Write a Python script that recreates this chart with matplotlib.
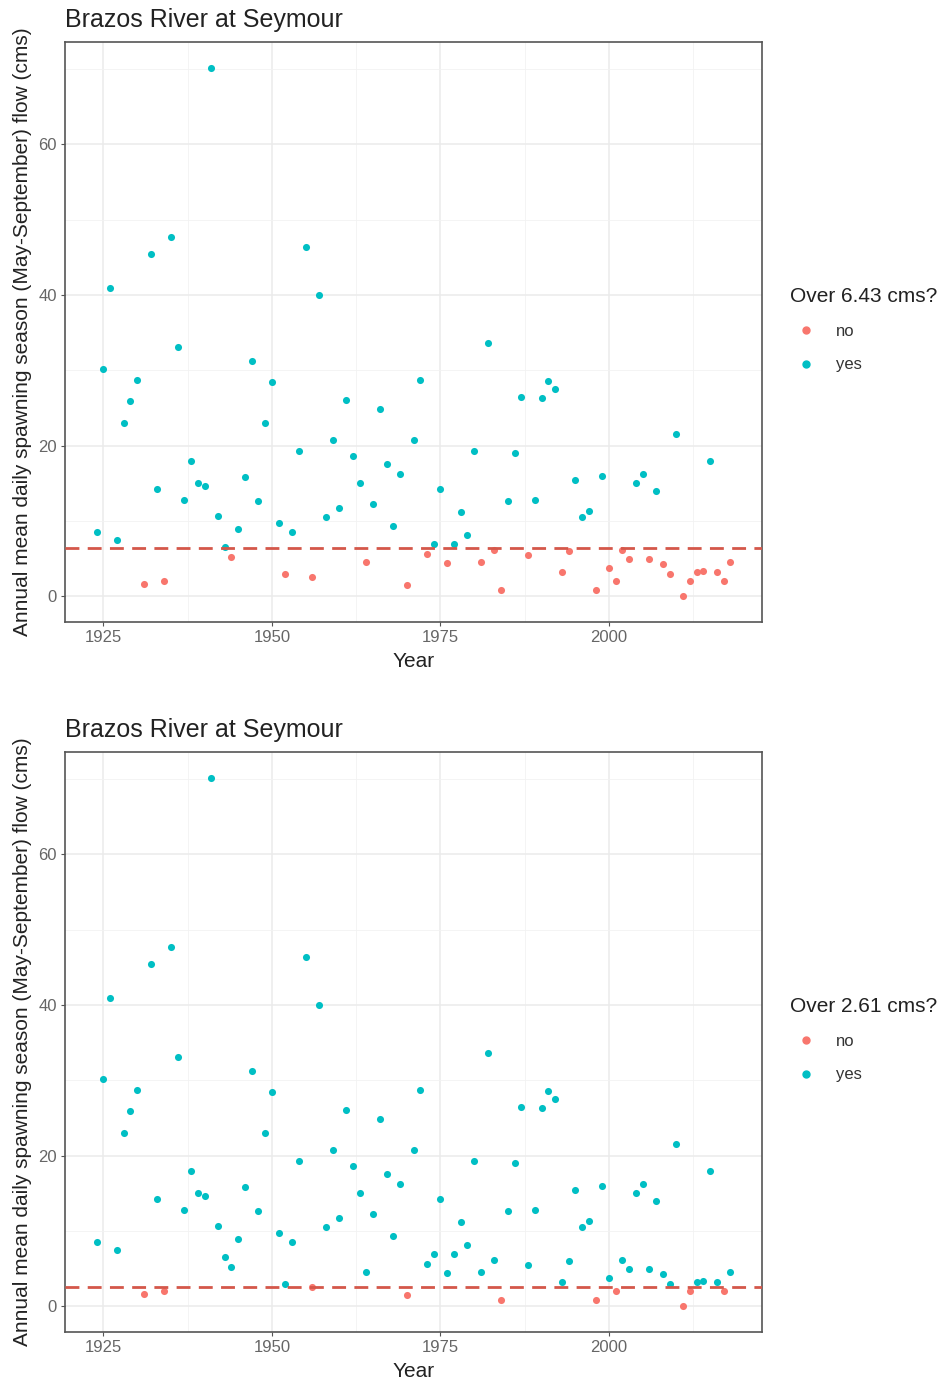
import matplotlib
matplotlib.use("Agg")
import matplotlib.pyplot as plt
from matplotlib.lines import Line2D
import numpy as np

plt.rcParams['font.family'] = ['Liberation Sans', 'DejaVu Sans']

# annual mean daily flow, May-September (cms)
years = [1924, 1925, 1926, 1927, 1928, 1929, 1930, 1931, 1932, 1933,
         1934, 1935, 1936, 1937, 1938, 1939, 1940, 1941, 1942, 1943,
         1944, 1945, 1946, 1947, 1948, 1949, 1950, 1951, 1952, 1953,
         1954, 1955, 1956, 1957, 1958, 1959, 1960, 1961, 1962, 1963,
         1964, 1965, 1966, 1967, 1968, 1969, 1970, 1971, 1972, 1973,
         1974, 1975, 1976, 1977, 1978, 1979, 1980, 1981, 1982, 1983,
         1984, 1985, 1986, 1987, 1988, 1989, 1990, 1991, 1992, 1993,
         1994, 1995, 1996, 1997, 1998, 1999, 2000, 2001, 2002, 2003,
         2004, 2005, 2006, 2007, 2008, 2009, 2010, 2011, 2012, 2013,
         2014, 2015, 2016, 2017, 2018]
flow = [8.6, 30.2, 40.9, 7.5, 23.0, 26.0, 28.7, 1.6, 45.4, 14.2,
        2.0, 47.7, 33.1, 12.8, 18.0, 15.0, 14.6, 70.1, 10.7, 6.6,
        5.2, 8.9, 15.9, 31.3, 12.7, 23.0, 28.5, 9.8, 3.0, 8.5,
        19.3, 46.4, 2.55, 40.0, 10.5, 20.7, 11.8, 26.1, 18.7, 15.1,
        4.5, 12.3, 24.9, 17.6, 9.3, 16.3, 1.5, 20.8, 28.7, 5.6,
        6.9, 14.3, 4.4, 7.0, 11.2, 8.2, 19.3, 4.6, 33.6, 6.2,
        0.8, 12.6, 19.1, 26.5, 5.5, 12.8, 26.4, 28.6, 27.5, 3.3,
        6.0, 15.5, 10.5, 11.4, 0.9, 16.0, 3.8, 2.1, 6.2, 5.0,
        15.0, 16.3, 4.9, 14.0, 4.3, 3.0, 21.5, 0.1, 2.1, 3.3,
        3.4, 18.0, 3.2, 2.1, 4.6]
thresholds = [6.43, 2.61]

title = "Brazos River at Seymour"
ylab = "Annual mean daily spawning season (May-September) flow (cms)"
col_no = "#F8766D"
col_yes = "#00BFC4"

W, H = 945, 1385
fig = plt.figure(figsize=(W / 100, H / 100), dpi=100)

yrs = np.array(years)
q = np.array(flow)

for k, thr in enumerate(thresholds):
    top = 42 + k * 710
    ax = fig.add_axes([65 / W, 1 - (top + 580) / H, 697 / W, 580 / H])
    over = q > thr
    ax.scatter(yrs[~over], q[~over], s=26, color=col_no, lw=0, zorder=3)
    ax.scatter(yrs[over], q[over], s=26, color=col_yes, lw=0, zorder=3)
    ax.axhline(thr, color="#D4574A", lw=2, ls=(0, (5, 3)), zorder=4)

    ax.set_xlim(1919.3, 2022.7)
    ax.set_ylim(-3.4, 73.6)
    ax.set_xticks([1925, 1950, 1975, 2000])
    ax.set_yticks([0, 20, 40, 60])
    ax.set_xticks([1937.5, 1962.5, 1987.5, 2012.5], minor=True)
    ax.set_yticks([10, 30, 50, 70], minor=True)
    ax.grid(which="major", color="#EBEBEB", lw=1.1)
    ax.grid(which="minor", color="#F2F2F2", lw=0.6)
    ax.set_axisbelow(True)
    for s in ax.spines.values():
        s.set_color("#555555")
        s.set_linewidth(1.2)
    ax.tick_params(which="major", length=3, color="#555555", labelsize=12,
                   labelcolor="#666666", pad=3)
    ax.tick_params(which="minor", length=0)

    ax.set_xlabel("Year", fontsize=15, color="#222222", labelpad=5)
    ax.set_ylabel(ylab, fontsize=15, color="#222222", labelpad=4)
    ax.set_title(title, loc="left", fontsize=18, color="#222222", pad=11)

    handles = [Line2D([], [], marker="o", ls="", color=col_no, markersize=5),
               Line2D([], [], marker="o", ls="", color=col_yes, markersize=5)]
    leg = ax.legend(handles, ["no", "yes"], title="Over %.2f cms?" % thr,
                    loc="upper left", frameon=False,
                    bbox_to_anchor=(783 / W, 1 - (top + 238) / H),
                    bbox_transform=fig.transFigure,
                    fontsize=12, title_fontsize=15, alignment="left",
                    handletextpad=0.8, labelspacing=1.1, borderaxespad=0)
    leg.get_title().set_color("#222222")
    for t in leg.get_texts():
        t.set_color("#333333")

fig.savefig("out.png", dpi=100)
